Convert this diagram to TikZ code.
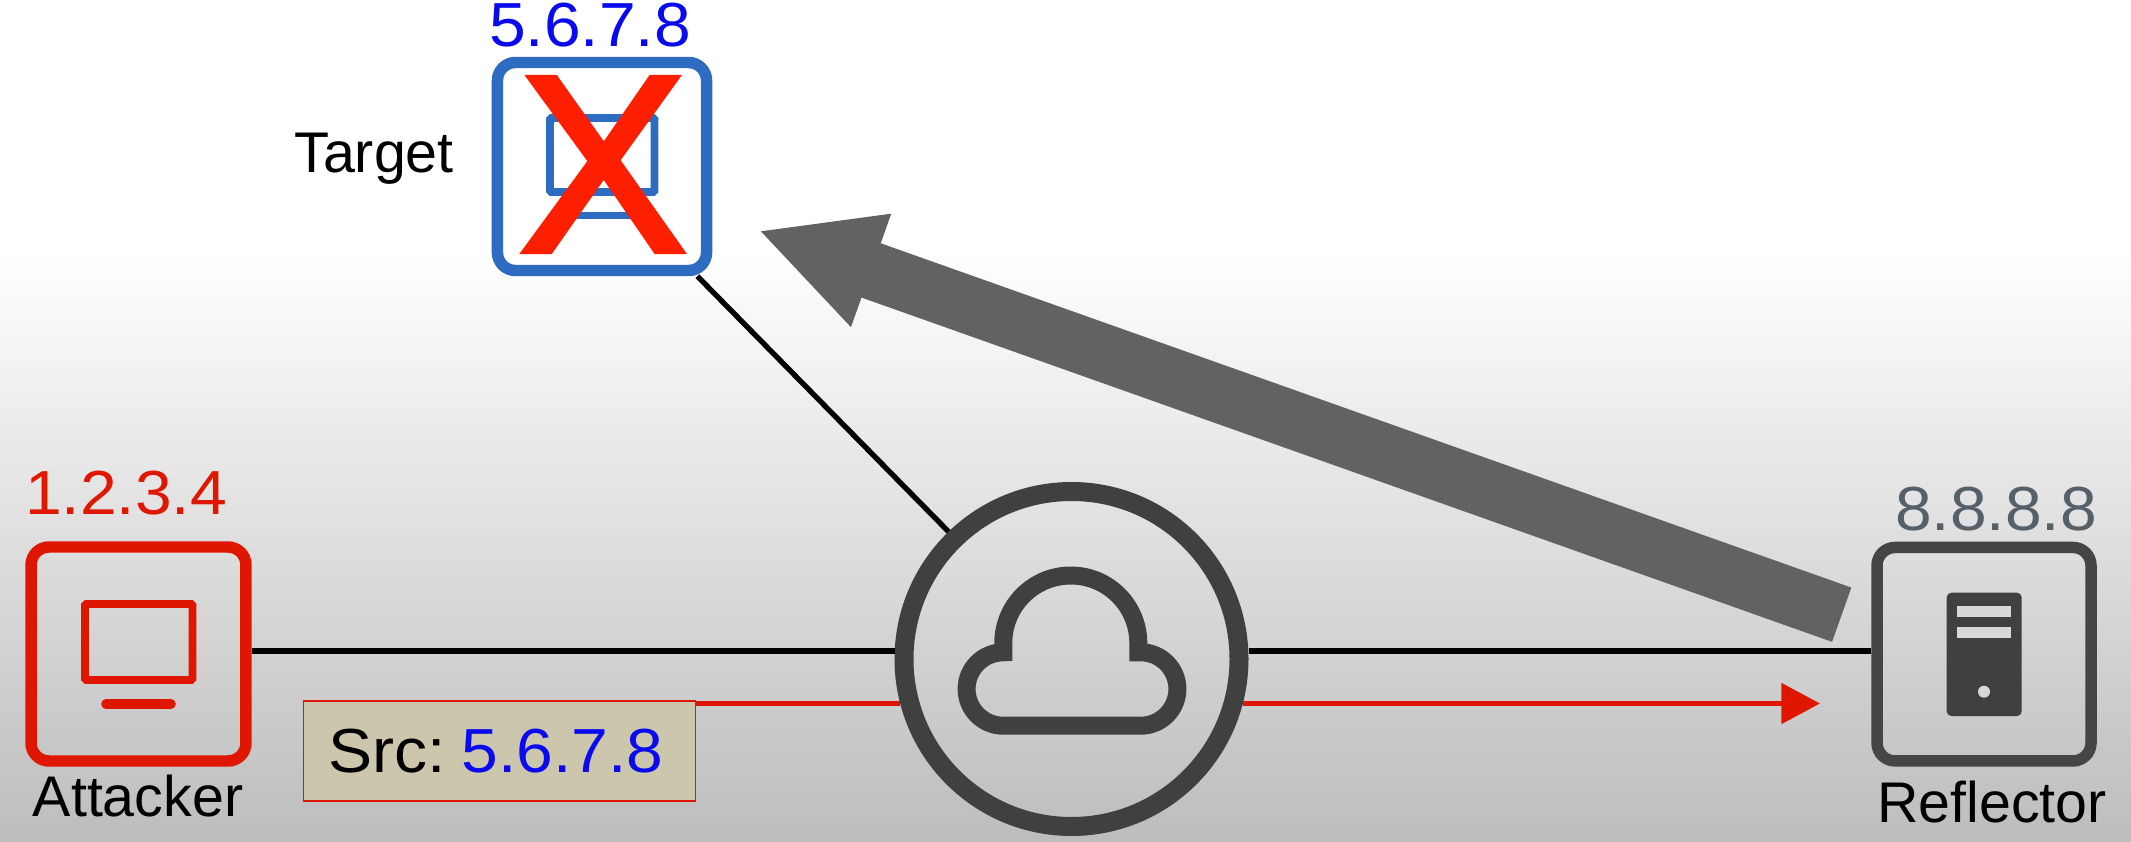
\documentclass[tikz,border=0pt]{standalone}
\usepackage{fontspec}
\setmainfont{Liberation Sans}
\newfontfamily\ipfont[FakeStretch=1.06]{Liberation Sans}
\newfontfamily\crossfont[FakeBold=2]{Liberation Sans}
\usetikzlibrary{arrows.meta}
\definecolor{attackred}{HTML}{DF1700}
\definecolor{targetblue}{HTML}{2D6CC0}
\definecolor{ipblue}{HTML}{0A0AEE}
\definecolor{crossred}{HTML}{FE1F00}
\definecolor{netgrey}{HTML}{404040}
\definecolor{boxgrey}{HTML}{454545}
\definecolor{ipgrey}{HTML}{566069}
\definecolor{flowgrey}{HTML}{626262}
\definecolor{tagfill}{HTML}{CBC6AC}
\definecolor{slotgrey}{HTML}{D8D8D8}
\tikzset{
	hostbox/.style={draw,rounded corners=13.5pt,line width=8.6pt,inner sep=0pt},
	ipaddr/.style={font=\ipfont\fontsize{46.7}{46.7}\selectfont,inner sep=0pt,anchor=base},
	hostname/.style={font=\fontsize{43}{43}\selectfont,inner sep=0pt,anchor=base},
	wire/.style={line width=4pt,black},
	redwire/.style={line width=3.8pt,attackred},
	screen/.style={line width=5.8pt,rounded corners=1pt}
}
\begin{document}
\begin{tikzpicture}[x=0.75pt,y=0.75pt,yscale=-1,xscale=1]
		\useasboundingbox (0,0) rectangle (2131,842);
		% background
		\fill[white] (0,0) rectangle (2131,252);
		\shade[top color=white,bottom color=black!26] (0,250) rectangle (2131,842);

		% hosts
		\node[hostbox,draw=attackred,minimum width=161.2pt,minimum height=160.5pt] (attacker) at (138.5,654) {};
		\node[hostbox,draw=targetblue,fill=white,minimum width=156.8pt,minimum height=156pt] (target) at (602,166.5) {};
		\node[hostbox,draw=boxgrey,minimum width=160.5pt,minimum height=160.1pt] (reflector) at (1984,654.2) {};
		\node[circle,draw=netgrey,line width=14.25pt,minimum size=251.25pt,inner sep=0pt] (internet) at (1071.5,659) {};

		% attacker screen
		\draw[screen,draw=attackred] (85,604) rectangle (192.5,680);
		\draw[attackred,line width=7.2pt,line cap=round] (106,704) -- (171,704);
		% target screen
		\draw[screen,draw=targetblue] (550,118) rectangle (654.5,192);
		\draw[targetblue,line width=5.4pt] (572,215.5) -- (634,215.5);
		% server
		\fill[netgrey,rounded corners=3.5pt] (1946.7,592.7) rectangle (2021.7,716);
		\fill[slotgrey] (1956.7,606) rectangle (2011,616.7);
		\fill[slotgrey] (1956.7,627.3) rectangle (2011,638.3);
		\fill[slotgrey] (1984,691.7) circle (6);
		% cloud
		\draw[netgrey,line width=13.5pt,miter limit=10] (1003.3,725.7) arc[start angle=90,end angle=270,radius=36.7]
			-- (1003.3,643) arc[start angle=180,end angle=360,radius=67.5]
			-- (1138.3,652.3) -- (1140.7,652.3) arc[start angle=270,end angle=450,radius=36.7] -- cycle;

		% links
		\coordinate (wirelevel) at (0,651);
		\draw[wire] (attacker.east |- wirelevel) -- (internet.west |- wirelevel);
		\draw[wire] (internet.east |- wirelevel) -- (reflector.west |- wirelevel);
		\draw[wire] (target.-49.5) -- (internet.134);

		% spoofed packet
		\node[draw=attackred,line width=1.1pt,fill=tagfill,minimum width=294pt,minimum height=75pt,inner sep=0pt,font=\ipfont\fontsize{46.7}{46.7}\selectfont] (packet) at (499.5,751) {Src:\hspace{11.6pt}\textcolor{ipblue}{5.6.7.8}\kern5pt};
		\coordinate (packetlevel) at (0,703.5);
		\coordinate (packethead) at (1820,703.5);
		\draw[redwire] (packet.east |- packetlevel) -- (internet.194.7 |- packetlevel);
		\draw[redwire,-{Triangle[length=29pt,width=30pt]}] (internet.-14.7 |- packetlevel) -- (packethead);

		% amplified reply
		\coordinate (replytail) at (1841.7,614.7);
		\coordinate (replyhead) at (758,230.3);
		\draw[flowgrey,line width=43.2pt,-{Triangle[length=90pt,width=83pt]}] (replytail) -- (replyhead);

		% texts
		\node[ipaddr,text=attackred] (attackerip) at (126,514) {1.2.3.4};
		\node[ipaddr,text=ipblue] (targetip) at (590,47) {5.6.7.8};
		\node[ipaddr,text=ipgrey] (reflectorip) at (1996,530) {8.8.8.8};
		\node[hostname] (attackername) at (138,816.7) {Attacker};
		\node[hostname] (targetname) at (374,172.6) {Target};
		\node[hostname] (reflectorname) at (1992,822.3) {Reflector};
		\node[font=\crossfont\fontsize{190}{190}\selectfont,text=crossred,inner sep=0pt] (cross) at (603,164.5) {X};
\end{tikzpicture}
\end{document}
